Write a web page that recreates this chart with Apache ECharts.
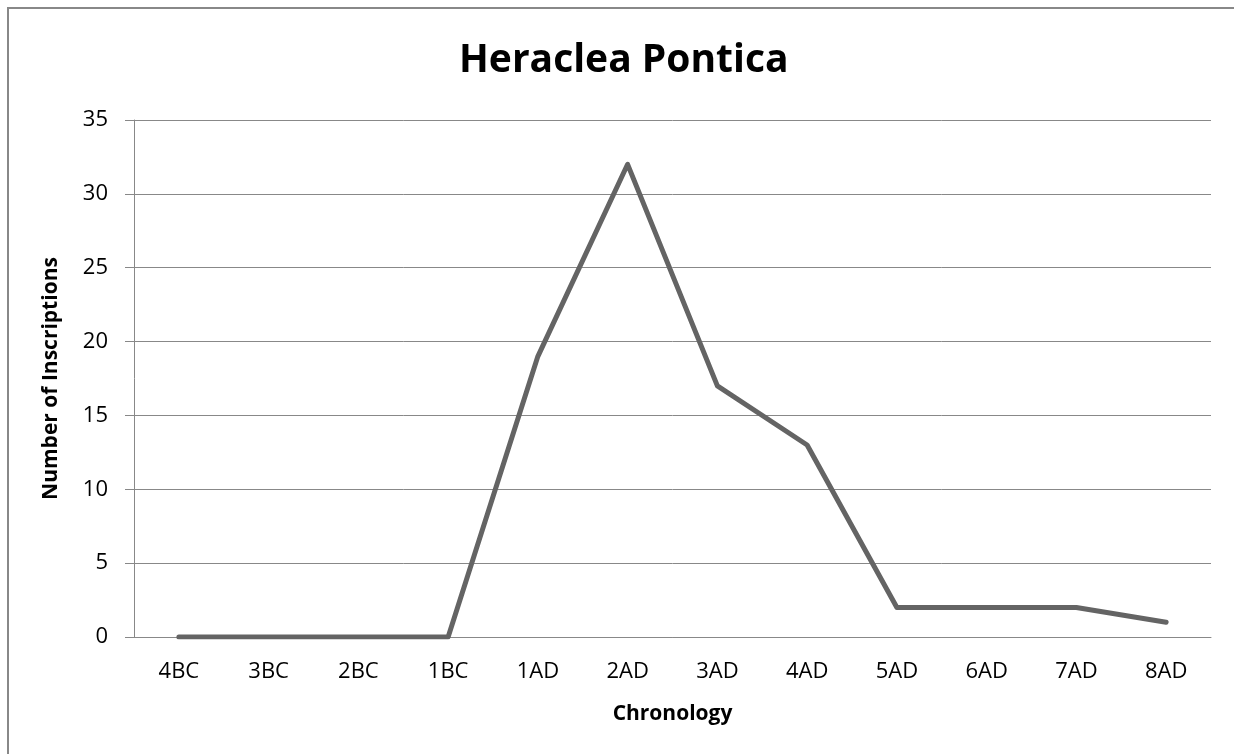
<!DOCTYPE html>
<html>
<head>
<meta charset="utf-8">
<script src="https://cdn.jsdelivr.net/npm/echarts@6/dist/echarts.min.js"></script>
<style>html,body{margin:0;padding:0;background:#fff;}#chart{width:1234px;height:754px;}</style>
</head>
<body>
<div id="chart"></div>
<script>
var categories = ['4BC','3BC','2BC','1BC','1AD','2AD','3AD','4AD','5AD','6AD','7AD','8AD'];
var inscriptions = [0,0,0,0,19,32,17,13,2,2,2,1];
var titleText = 'Heraclea Pontica';
var yAxisName = 'Number of Inscriptions';
var xAxisName = 'Chronology';

var FONT = '"Open Sans", "Liberation Sans", sans-serif';
var chart = echarts.init(document.getElementById('chart'), null, {renderer: 'canvas'});
chart.setOption({
  backgroundColor: '#fff',
  animation: false,
  graphic: [{
    type: 'rect', shape: {x: 8, y: 8, width: 1240, height: 800},
    style: {fill: 'none', stroke: '#888', lineWidth: 2}, silent: true, z: -1
  }],
  title: {
    text: titleText, left: 454, top: 36,
    textStyle: {fontFamily: FONT, fontSize: 39, fontWeight: 'bold', color: '#000'}
  },
  grid: {left: 134, right: 23, top: 120, bottom: 117, containLabel: false},
  xAxis: {
    type: 'category', data: categories, boundaryGap: true,
    axisLine: {show: true, lineStyle: {color: '#888', width: 1}},
    axisTick: {show: false},
    axisLabel: {fontFamily: FONT, fontSize: 22, color: '#000', margin: 24},
    name: xAxisName, nameLocation: 'middle', nameGap: 67,
    nameTextStyle: {fontFamily: FONT, fontSize: 21, fontWeight: 'bold', color: '#000'}
  },
  yAxis: {
    type: 'value', min: 0, max: 35, interval: 5,
    axisLine: {show: true, lineStyle: {color: '#888', width: 1}},
    axisTick: {show: true, length: 9, lineStyle: {color: '#888'}},
    splitLine: {show: true, lineStyle: {color: '#888', width: 1}},
    axisLabel: {fontFamily: FONT, fontSize: 22, color: '#000', margin: 26},
    name: yAxisName, nameLocation: 'middle', nameGap: 72, nameRotate: 90,
    nameTextStyle: {fontFamily: FONT, fontSize: 21, fontWeight: 'bold', color: '#000'}
  },
  series: [{
    type: 'line', data: inscriptions, symbol: 'none',
    lineStyle: {color: '#646464', width: 5, cap: 'round', join: 'round'}
  }]
});
</script>
</body>
</html>
